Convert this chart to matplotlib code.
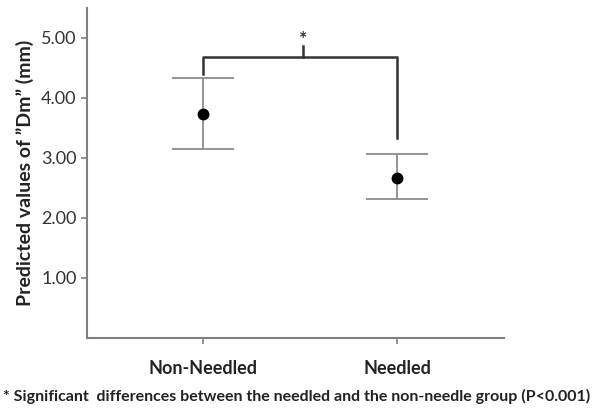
import numpy as np
import matplotlib.pyplot as plt

# valores
grupos = ['Non-Needled', 'Needled']
medias = [3.74, 2.67]
lim_sup = [4.34, 3.07]
lim_inf = [3.15, 2.31]
ticks_y = [1.0, 2.0, 3.0, 4.0, 5.0]
nota = '* Significant  differences between the needled and the non-needle group (P<0.001)'

plt.rcParams['font.family'] = ['Lato', 'DejaVu Sans']

fig = plt.figure(figsize=(5.94, 4.13), dpi=100)
ax = fig.add_axes([87 / 594, 75 / 413, (504 - 87) / 594, (338 - 8) / 413])

x = np.arange(1, len(grupos) + 1)
err = [np.array(medias) - np.array(lim_inf), np.array(lim_sup) - np.array(medias)]
ax.errorbar(x, medias, yerr=err, fmt='o', color='black', ms=7.5,
            ecolor='#8c8c8c', elinewidth=1.3, capsize=22, capthick=1.3)

# corchete de significancia
y_bar = 4.69
ax.plot([x[0], x[0], x[1], x[1]], [4.40, y_bar, y_bar, 3.33], color='#333333', lw=1.8)
ax.plot([1.515, 1.515], [y_bar, 4.86], color='#333333', lw=1.8)
ax.text(1.515, 4.98, '*', ha='center', va='center', fontsize=14, fontweight='bold',
        color='#333333')

ax.set_xlim(0.4, 2.55)
ax.set_ylim(0, 5.5)
ax.set_xticks(x)
ax.set_xticklabels(grupos, fontsize=13, fontweight='bold', color='#222222')
ax.set_yticks(ticks_y)
ax.set_yticklabels(['%.2f' % v for v in ticks_y], fontsize=13, color='#333333')
ax.set_ylabel('Predicted values of \u201dDm\u201d (mm)', fontsize=14, fontweight='bold',
              color='#222222', labelpad=5)

for lado in ['top', 'right']:
    ax.spines[lado].set_visible(False)
for lado in ['left', 'bottom']:
    ax.spines[lado].set_color('#808080')
    ax.spines[lado].set_linewidth(1.5)
ax.tick_params(axis='both', colors='#808080', length=4, width=1.2)
ax.tick_params(axis='x', pad=12)
for t in ax.get_xticklabels():
    t.set_color('#222222')
for t in ax.get_yticklabels():
    t.set_color('#333333')

fig.text(297 / 594, 1 - 396 / 413, nota, ha='center', va='center', fontsize=11.5,
         fontweight='bold', color='#222222')

fig.savefig('out.png', dpi=100)
